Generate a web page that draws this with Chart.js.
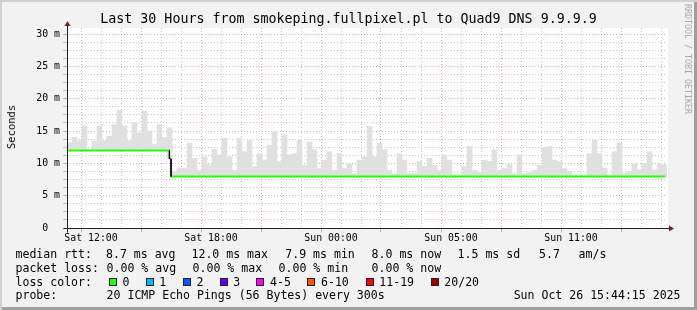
<!DOCTYPE html>
<html>
<head>
<meta charset="utf-8">
<script src="https://cdn.jsdelivr.net/npm/chart.js@4/dist/chart.umd.min.js"></script>
<style>
  body { margin: 0; background: #f2f2f2; }
  #graph {
    position: relative; width: 697px; height: 310px; overflow: hidden;
    background: #f2f2f2;
    box-shadow: inset 2px 2px 0 #cfcfcf, inset -3px -3px 0 #9e9e9e;
    font-family: 'DejaVu Sans Mono', monospace; color: #000;
  }
  #graph canvas { position: absolute; left: 0; top: 0; }
  .t { position: absolute; white-space: pre; font-size: 11.56px; line-height: 14px; }
  .box { position: absolute; width: 8px; height: 8px; box-sizing: border-box; border: 1px solid #222; }
  #title { position: absolute; left: 0; width: 697px; top: 11px; text-align: center;
           font-size: 13.3px; line-height: 16px; white-space: pre; }
  #ylabel { position: absolute; left: 11px; top: 127px; font-size: 10.5px; line-height: 12px;
            transform: translate(-50%, -50%) rotate(-90deg); white-space: pre; }
  #mark { position: absolute; left: 683px; top: 4px; font-size: 8.3px; line-height: 9px;
          writing-mode: vertical-rl; color: #a8a8a8; white-space: pre; }
</style>
</head>
<body>
<div id="graph">
  <canvas id="chart" width="697" height="310"></canvas>
  <div id="title">Last 30 Hours from smokeping.fullpixel.pl to Quad9 DNS 9.9.9.9</div>
  <div id="ylabel">Seconds</div>
  <div id="mark">RRDTOOL / TOBI OETIKER</div>

  <span class="t" style="left:15.5px;top:247.2px">median rtt:</span>
  <span class="t" style="left:106px;top:247.2px">8.7 ms avg</span>
  <span class="t" style="left:191.5px;top:247.2px">12.0 ms max</span>
  <span class="t" style="left:285.3px;top:247.2px">7.9 ms min</span>
  <span class="t" style="left:371.6px;top:247.2px">8.0 ms now</span>
  <span class="t" style="left:457.6px;top:247.2px">1.5 ms sd</span>
  <span class="t" style="left:539px;top:247.2px">5.7</span>
  <span class="t" style="left:578.6px;top:247.2px">am/s</span>

  <span class="t" style="left:15.5px;top:260.8px">packet loss:</span>
  <span class="t" style="left:106.6px;top:260.8px">0.00 % avg</span>
  <span class="t" style="left:192.6px;top:260.8px">0.00 % max</span>
  <span class="t" style="left:278.6px;top:260.8px">0.00 % min</span>
  <span class="t" style="left:371.6px;top:260.8px">0.00 % now</span>

  <span class="t" style="left:15.5px;top:274.6px">loss color:</span>
  <span class="box" style="left:108.7px;top:278.3px;background:#26ff00"></span>
  <span class="t" style="left:122.6px;top:274.6px">0</span>
  <span class="box" style="left:145.7px;top:278.3px;background:#00b8ff"></span>
  <span class="t" style="left:159.3px;top:274.6px">1</span>
  <span class="box" style="left:182.7px;top:278.3px;background:#0059ff"></span>
  <span class="t" style="left:196.6px;top:274.6px">2</span>
  <span class="box" style="left:219.7px;top:278.3px;background:#5e00ff"></span>
  <span class="t" style="left:233.3px;top:274.6px">3</span>
  <span class="box" style="left:256px;top:278.3px;background:#ff00ff"></span>
  <span class="t" style="left:270px;top:274.6px">4-5</span>
  <span class="box" style="left:307.3px;top:278.3px;background:#ff5500"></span>
  <span class="t" style="left:321px;top:274.6px">6-10</span>
  <span class="box" style="left:365.7px;top:278.3px;background:#ff0000"></span>
  <span class="t" style="left:379.3px;top:274.6px">11-19</span>
  <span class="box" style="left:430.7px;top:278.3px;background:#a10000"></span>
  <span class="t" style="left:444.3px;top:274.6px">20/20</span>

  <span class="t" style="left:15.5px;top:288.2px">probe:</span>
  <span class="t" style="left:106.6px;top:288.2px">20 ICMP Echo Pings (56 Bytes) every 300s</span>
  <span class="t" style="right:16.5px;top:288.2px">Sun Oct 26 15:44:15 2025</span>
</div>

<script>
// hours since the left edge of the graph (Sat 10:48 local time)
const binHours = 0.25;

// highest ping of the smoke in each 15 minute bin, ms
const smokeMax = [
  13.2, 14.0, 13.5, 15.8, 12.2, 13.5, 15.8, 13.5, 14.2, 16.0, 18.2, 15.8,
  13.5, 16.3, 14.7, 18.1, 15.0, 12.9, 16.0, 14.0, 15.5, 8.8, 9.3, 9.3,
  13.1, 10.8, 8.9, 11.0, 9.8, 12.2, 11.3, 13.9, 11.0, 8.9, 13.9, 11.8,
  13.6, 9.5, 11.5, 10.5, 12.8, 14.9, 10.3, 14.4, 11.3, 11.5, 13.6, 9.7,
  13.3, 12.1, 9.2, 10.5, 11.8, 8.9, 11.5, 9.2, 9.9, 8.4, 10.5, 11.0,
  15.7, 11.0, 13.1, 12.1, 8.9, 8.4, 11.5, 10.5, 8.4, 8.4, 10.3, 9.5,
  10.8, 9.7, 8.9, 11.3, 10.5, 8.2, 8.2, 9.5, 12.6, 8.9, 8.6, 10.5,
  10.3, 12.1, 8.9, 9.2, 9.9, 8.4, 11.3, 8.4, 8.6, 8.9, 9.7, 12.4,
  12.6, 10.5, 10.3, 9.2, 8.7, 8.2, 8.2, 8.2, 11.5, 13.6, 11.5, 9.3,
  8.2, 11.8, 13.1, 8.5, 8.7, 10.0, 9.0, 10.0, 11.8, 9.0, 10.0, 9.8
];

// median rtt, ms, as steps: value from medianStart[i] on
const medianStart = [0, 5.12, 5.2];
const medianValues = [12.0, 10.7, 7.95];
const dataEnd = 29.9;

// time axis labels
const xLabelHours = [1.2, 7.2, 13.2, 19.2, 25.2];
const xLabels = ['Sat 12:00', 'Sat 18:00', 'Sun 00:00', 'Sun 05:00', 'Sun 11:00'];

const gridColor = 'rgba(143,143,143,0.5)';
const mgridColor = 'rgba(222,79,79,0.5)';
const tickFont = { family: 'DejaVu Sans Mono', size: 9.9 };

function medianAt(t) {
  let v = medianValues[0];
  for (let i = 0; i < medianStart.length; i++) {
    if (medianStart[i] <= t) v = medianValues[i];
  }
  return v;
}

function isMajorHour(v) {
  const k = (v - xLabelHours[0]) / 3;
  return Math.abs(k - Math.round(k)) < 1e-6;
}

const smokeData = smokeMax.map((v, i) => {
  const t = i * binHours + binHours / 2;
  return { x: t, y: [medianAt(t), v] };
});

const medianData = [];
const dropData = [];
for (let i = 0; i < medianStart.length; i++) {
  const end = i + 1 < medianStart.length ? medianStart[i + 1] : dataEnd;
  medianData.push({ x: medianStart[i], y: medianValues[i] });
  medianData.push({ x: end, y: medianValues[i] });
  medianData.push({ x: end, y: null });
  if (i > 0) {
    dropData.push({ x: medianStart[i], y: medianValues[i - 1] });
    dropData.push({ x: medianStart[i], y: medianValues[i] });
    dropData.push({ x: medianStart[i], y: null });
  }
}

const plotBack = {
  id: 'plotBack',
  beforeDraw(chart) {
    const a = chart.chartArea;
    chart.ctx.save();
    chart.ctx.fillStyle = '#ffffff';
    chart.ctx.fillRect(a.left, a.top, a.right - a.left + 1, a.bottom - a.top);
    chart.ctx.restore();
  }
};

const axisArrows = {
  id: 'axisArrows',
  afterDatasetsDraw(chart) {
    const ctx = chart.ctx;
    const a = chart.chartArea;
    const y0 = Math.round(chart.scales.y.getPixelForValue(0)) + 0.5;
    const x0 = Math.round(a.left) + 0.5;
    ctx.save();
    ctx.strokeStyle = '#1f1f1f';
    ctx.lineWidth = 1;
    ctx.beginPath();
    ctx.moveTo(x0 - 4, y0);
    ctx.lineTo(a.right + 2, y0);
    ctx.moveTo(x0, y0 + 4);
    ctx.lineTo(x0, a.top - 2);
    ctx.stroke();
    ctx.fillStyle = '#7f1f1f';
    ctx.beginPath();
    ctx.moveTo(a.right + 2, y0 - 3);
    ctx.lineTo(a.right + 7, y0);
    ctx.lineTo(a.right + 2, y0 + 3);
    ctx.closePath();
    ctx.fill();
    ctx.beginPath();
    ctx.moveTo(x0 - 3, a.top - 2);
    ctx.lineTo(x0, a.top - 7);
    ctx.lineTo(x0 + 3, a.top - 2);
    ctx.closePath();
    ctx.fill();
    ctx.restore();
  }
};

new Chart(document.getElementById('chart'), {
  data: {
    datasets: [
      {
        type: 'bar',
        label: 'smoke',
        data: smokeData,
        backgroundColor: '#e0e0e0',
        borderWidth: 0,
        barPercentage: 1,
        categoryPercentage: 1,
        grouped: false,
        order: 3
      },
      {
        type: 'line',
        label: 'median rtt',
        data: medianData,
        borderColor: '#26ff00',
        borderWidth: 2,
        pointRadius: 0,
        spanGaps: false,
        order: 2
      },
      {
        type: 'line',
        label: 'median step',
        data: dropData,
        borderColor: '#000000',
        borderWidth: 1,
        pointRadius: 0,
        spanGaps: false,
        order: 1
      }
    ]
  },
  options: {
    responsive: false,
    animation: false,
    events: [],
    layout: { padding: { left: 0, top: 28, right: 30, bottom: 0 } },
    plugins: {
      legend: { display: false },
      tooltip: { enabled: false },
      title: { display: false }
    },
    scales: {
      x: {
        type: 'linear',
        min: 0,
        max: 30,
        offset: false,
        afterBuildTicks: (s) => {
          const ticks = [];
          for (let h = xLabelHours[0] - 1; h < 30; h += 1) ticks.push({ value: h });
          s.ticks = ticks;
        },
        afterFit: (s) => { s.height = 82; },
        border: { display: false, dash: [1, 2] },
        grid: {
          color: (c) => c.tick && isMajorHour(c.tick.value) ? mgridColor : gridColor,
          drawTicks: true,
          tickLength: 4,
          tickColor: (c) => c.tick && isMajorHour(c.tick.value) ? mgridColor : 'rgba(0,0,0,0)',
          tickBorderDash: []
        },
        ticks: {
          autoSkip: false,
          maxRotation: 0,
          minRotation: 0,
          padding: 0,
          color: '#000',
          font: tickFont,
          callback: (v) => {
            const i = xLabelHours.findIndex((h) => Math.abs(h - v) < 1e-6);
            return i >= 0 ? xLabels[i] : '';
          }
        }
      },
      y: {
        min: 0,
        max: 30.93,
        afterBuildTicks: (s) => {
          const ticks = [];
          for (let v = 0; v <= 30; v += 1.25) ticks.push({ value: v });
          s.ticks = ticks;
        },
        afterFit: (s) => { s.width = 67; },
        border: { display: false, dash: [1, 2] },
        grid: {
          color: (c) => c.tick && c.tick.value % 5 === 0 ? mgridColor : gridColor,
          drawTicks: true,
          tickLength: 4
        },
        ticks: {
          autoSkip: false,
          padding: 3,
          color: '#000',
          font: tickFont,
          callback: (v) => {
            if (v % 5 !== 0) return '';
            return v === 0 ? '0  ' : v + ' m';
          }
        }
      }
    }
  },
  plugins: [plotBack, axisArrows]
});
</script>
</body>
</html>
